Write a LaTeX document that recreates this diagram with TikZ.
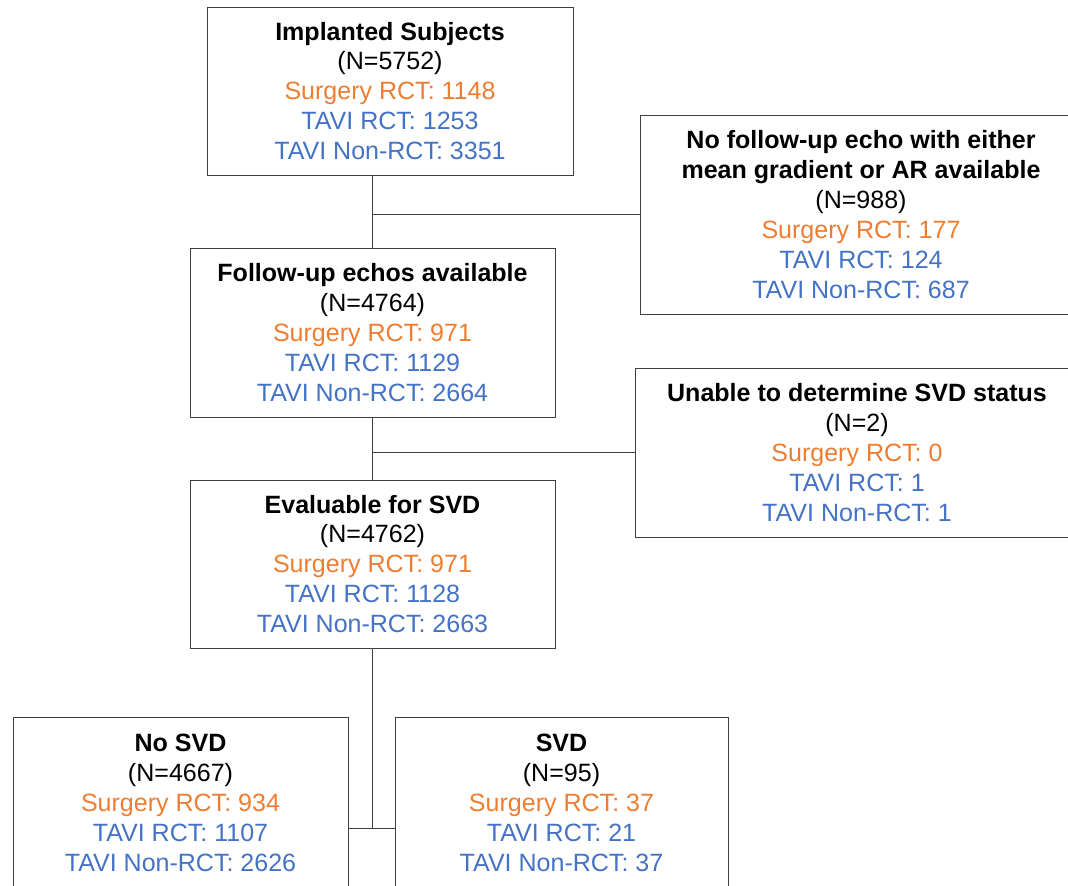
\documentclass[tikz,border=0pt]{standalone}
\usepackage{fontspec}
\setmainfont{Liberation Sans}
\usetikzlibrary{positioning,calc}
\definecolor{surg}{HTML}{ED7D31}
\definecolor{tavi}{HTML}{4472C4}
\definecolor{edge}{HTML}{404040}

\begin{document}
\begin{tikzpicture}[x=0.025cm, y=-0.025cm,
  box/.style={draw=edge, line width=0.6pt, align=center, inner sep=0pt,
              font=\fontsize{17.8}{21.3}\selectfont},
  link/.style={draw=edge, line width=0.6pt}]
  \useasboundingbox (0,0) rectangle (1068,886);
  \node[box, minimum width=9.15cm, minimum height=4.2cm] (impl) at (390,91)
    {\textbf{Implanted Subjects}\\(N=5752)\\{\color{surg}Surgery RCT: 1148}\\
     {\color{tavi}TAVI RCT: 1253}\\{\color{tavi}TAVI Non-RCT: 3351}};
  \node[box, minimum width=11.05cm, minimum height=4.975cm] (nofu) at (861,214.5)
    {\textbf{No follow-up echo with either}\\\textbf{mean gradient or AR available}\\(N=988)\\
     {\color{surg}Surgery RCT: 177}\\{\color{tavi}TAVI RCT: 124}\\{\color{tavi}TAVI Non-RCT: 687}};
  \node[box, minimum width=9.125cm, minimum height=4.225cm] (fu) at (372.5,332.5)
    {\textbf{Follow-up echos available}\\(N=4764)\\{\color{surg}Surgery RCT: 971}\\
     {\color{tavi}TAVI RCT: 1129}\\{\color{tavi}TAVI Non-RCT: 2664}};
  \node[box, minimum width=11.1cm, minimum height=4.225cm] (unable) at (857,452.5)
    {\textbf{Unable to determine SVD status}\\(N=2)\\{\color{surg}Surgery RCT: 0}\\
     {\color{tavi}TAVI RCT: 1}\\{\color{tavi}TAVI Non-RCT: 1}};
  \node[box, minimum width=9.125cm, minimum height=4.2cm] (eval) at (372.5,564)
    {\textbf{Evaluable for SVD}\\(N=4762)\\{\color{surg}Surgery RCT: 971}\\
     {\color{tavi}TAVI RCT: 1128}\\{\color{tavi}TAVI Non-RCT: 2663}};
  \node[box, minimum width=8.375cm, minimum height=4.3cm] (nosvd) at (180.5,803)
    {\textbf{No SVD}\\(N=4667)\\{\color{surg}Surgery RCT: 934}\\
     {\color{tavi}TAVI RCT: 1107}\\{\color{tavi}TAVI Non-RCT: 2626}};
  \node[box, minimum width=8.325cm, minimum height=4.3cm] (svd) at (561.5,803)
    {\textbf{SVD}\\(N=95)\\{\color{surg}Surgery RCT: 37}\\
     {\color{tavi}TAVI RCT: 21}\\{\color{tavi}TAVI Non-RCT: 37}};
  % connectors
  \coordinate (join) at (372.5,828);
  \draw[link] (fu.north |- impl.south) -- (fu.north);
  \draw[link] (nofu.west) -- (nofu.west -| fu.north);
  \draw[link] (fu.south) -- (eval.north);
  \draw[link] (unable.west) -- (unable.west -| fu.south);
  \draw[link] (eval.south) -- (join);
  \draw[link] (nosvd.east |- join) -- (svd.west |- join);
\end{tikzpicture}
\end{document}
